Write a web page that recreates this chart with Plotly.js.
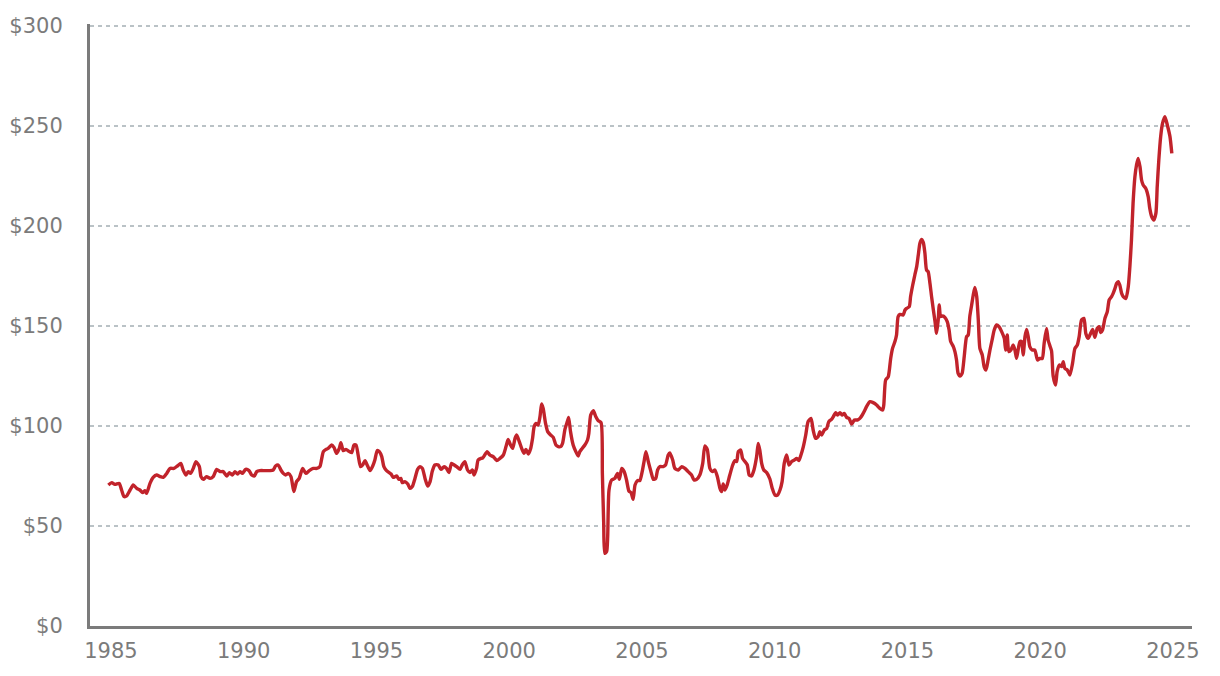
<!DOCTYPE html>
<html>
<head>
<meta charset="utf-8">
<script src="https://cdn.plot.ly/plotly-3.0.1.min.js"></script>
<style>
  html, body { margin: 0; padding: 0; background: #ffffff; }
  #chart { width: 1220px; height: 676px; }
</style>
</head>
<body>
<div id="chart"></div>
<script>
// Decimal years (x) and prices in dollars (y)
const years = [
  1984.90,1985.03,1985.15,1985.31,1985.40,1985.49,1985.59,1985.72,1985.84,1985.97,
  1986.09,1986.19,1986.28,1986.34,1986.47,1986.59,1986.72,1986.85,1986.97,1987.10,
  1987.22,1987.37,1987.50,1987.63,1987.72,1987.82,1987.91,1988.00,1988.10,1988.20,
  1988.33,1988.39,1988.48,1988.60,1988.73,1988.85,1988.98,1989.11,1989.23,1989.36,
  1989.46,1989.57,1989.67,1989.77,1989.86,1989.95,1990.07,1990.20,1990.30,1990.40,
  1990.49,1990.61,1990.80,1990.99,1991.11,1991.20,1991.30,1991.40,1991.49,1991.58,
  1991.68,1991.78,1991.89,1991.99,1992.09,1992.22,1992.34,1992.47,1992.62,1992.75,
  1992.87,1992.94,1993.00,1993.10,1993.18,1993.31,1993.40,1993.50,1993.60,1993.66,
  1993.75,1993.85,1993.98,1994.07,1994.15,1994.23,1994.31,1994.40,1994.48,1994.57,
  1994.65,1994.76,1994.86,1994.94,1995.03,1995.11,1995.20,1995.28,1995.38,1995.55,
  1995.63,1995.76,1995.85,1995.92,1995.97,1996.07,1996.18,1996.26,1996.35,1996.45,
  1996.55,1996.64,1996.73,1996.83,1996.93,1997.02,1997.10,1997.20,1997.33,1997.43,
  1997.55,1997.64,1997.73,1997.83,1997.93,1998.02,1998.15,1998.23,1998.33,1998.43,
  1998.52,1998.61,1998.68,1998.77,1998.83,1998.94,1999.00,1999.17,1999.27,1999.40,
  1999.53,1999.65,1999.78,1999.88,1999.96,2000.05,2000.13,2000.22,2000.28,2000.38,
  2000.47,2000.56,2000.63,2000.72,2000.81,2000.88,2000.94,2001.01,2001.09,2001.16,
  2001.22,2001.28,2001.37,2001.45,2001.56,2001.66,2001.76,2001.85,2001.94,2002.01,
  2002.10,2002.19,2002.24,2002.31,2002.41,2002.51,2002.60,2002.66,2002.75,2002.85,
  2002.95,2003.00,2003.07,2003.17,2003.26,2003.35,2003.46,2003.51,2003.56,2003.60,
  2003.67,2003.71,2003.76,2003.86,2003.98,2004.08,2004.15,2004.24,2004.33,2004.42,
  2004.51,2004.59,2004.67,2004.74,2004.84,2004.92,2005.01,2005.09,2005.15,2005.24,
  2005.34,2005.43,2005.52,2005.59,2005.68,2005.80,2005.89,2005.99,2006.05,2006.16,
  2006.24,2006.37,2006.50,2006.62,2006.74,2006.87,2006.96,2007.06,2007.18,2007.29,
  2007.37,2007.46,2007.56,2007.66,2007.75,2007.84,2007.94,2008.00,2008.06,2008.13,
  2008.21,2008.31,2008.42,2008.50,2008.57,2008.63,2008.72,2008.79,2008.88,2008.97,
  2009.04,2009.13,2009.22,2009.32,2009.38,2009.44,2009.51,2009.59,2009.70,2009.82,
  2009.91,2010.01,2010.11,2010.20,2010.28,2010.36,2010.45,2010.54,2010.64,2010.74,
  2010.83,2010.91,2010.99,2011.08,2011.17,2011.26,2011.37,2011.45,2011.54,2011.64,
  2011.70,2011.77,2011.87,2011.96,2012.04,2012.14,2012.21,2012.30,2012.37,2012.46,
  2012.54,2012.62,2012.71,2012.80,2012.90,2013.00,2013.12,2013.21,2013.30,2013.40,
  2013.46,2013.59,2013.71,2013.84,2013.96,2014.07,2014.11,2014.18,2014.28,2014.37,
  2014.44,2014.53,2014.59,2014.65,2014.72,2014.84,2014.91,2014.97,2015.07,2015.12,
  2015.20,2015.28,2015.35,2015.41,2015.47,2015.53,2015.60,2015.66,2015.72,2015.78,
  2015.85,2015.91,2015.97,2016.04,2016.10,2016.16,2016.20,2016.25,2016.33,2016.41,
  2016.50,2016.57,2016.63,2016.73,2016.79,2016.85,2016.91,2016.98,2017.06,2017.14,
  2017.23,2017.29,2017.35,2017.42,2017.48,2017.54,2017.61,2017.67,2017.73,2017.82,
  2017.89,2017.96,2018.04,2018.11,2018.19,2018.27,2018.36,2018.45,2018.55,2018.65,
  2018.70,2018.76,2018.82,2018.90,2018.98,2019.05,2019.11,2019.17,2019.24,2019.30,
  2019.36,2019.43,2019.49,2019.55,2019.61,2019.70,2019.80,2019.90,2019.99,2020.08,
  2020.15,2020.24,2020.30,2020.37,2020.43,2020.49,2020.58,2020.64,2020.72,2020.81,
  2020.87,2020.93,2021.02,2021.12,2021.22,2021.31,2021.40,2021.47,2021.56,2021.65,
  2021.72,2021.81,2021.90,2021.98,2022.06,2022.15,2022.22,2022.28,2022.35,2022.44,
  2022.53,2022.60,2022.69,2022.75,2022.82,2022.88,2022.94,2023.00,2023.07,2023.13,
  2023.23,2023.32,2023.38,2023.44,2023.50,2023.57,2023.63,2023.69,2023.76,2023.82,
  2023.88,2023.98,2024.07,2024.13,2024.20,2024.28,2024.36,2024.41,2024.47,2024.54,
  2024.61,2024.70,2024.79,2024.89,2024.96
];
const prices = [
  70.5,71.7,70.8,71.3,68.0,64.7,65.0,68.0,70.5,68.8,
  68.0,66.7,67.7,66.3,71.3,74.3,75.5,74.7,74.3,76.3,
  78.8,78.8,80.0,81.3,78.0,75.5,77.2,76.3,78.8,82.2,
  79.7,74.7,73.3,74.7,73.8,74.7,78.3,77.2,77.2,75.0,
  76.7,75.5,77.2,76.0,77.2,76.3,78.3,77.7,75.5,75.0,
  77.2,77.7,77.7,77.7,78.0,80.0,80.5,78.0,76.3,75.5,
  76.3,74.7,67.2,72.2,73.8,78.8,76.3,77.7,78.8,78.8,
  79.7,83.8,87.2,88.3,88.8,90.5,89.3,86.3,88.8,91.7,
  87.7,88.3,87.2,86.7,90.5,90.5,85.5,79.7,80.5,82.7,
  80.5,77.7,80.0,83.0,87.7,87.2,84.7,79.7,77.7,76.0,
  74.3,75.0,73.3,73.8,71.7,72.2,71.0,68.8,69.7,73.8,
  78.3,79.7,78.8,73.8,70.0,72.2,77.2,80.5,80.5,78.3,
  79.7,78.8,76.7,81.3,80.5,79.7,78.3,80.5,82.2,78.0,
  76.7,78.0,75.5,78.8,83.0,83.8,84.0,87.2,85.5,84.7,
  82.7,83.8,85.5,89.7,93.3,90.5,88.8,93.8,95.5,92.2,
  88.8,86.3,88.3,86.0,88.8,93.8,99.7,101.3,100.5,104.7,
  111.0,108.8,101.3,97.2,95.5,94.3,90.5,89.7,89.7,91.3,
  98.3,102.2,104.3,97.2,90.5,87.2,85.0,87.2,88.8,90.5,
  93.0,96.3,105.5,107.7,104.7,102.7,101.7,76.3,51.3,36.3,
  37.2,44.7,68.0,73.0,73.8,76.3,73.3,78.8,77.2,73.0,
  67.5,66.7,63.3,70.5,72.7,72.7,77.2,83.0,87.2,82.2,
  77.2,73.3,73.8,78.0,79.7,79.7,80.5,85.5,86.5,83.0,
  78.8,78.0,79.7,78.8,77.2,75.5,73.0,73.3,75.5,81.3,
  90.0,88.3,78.8,77.2,78.0,74.7,68.8,67.2,71.0,68.0,
  70.5,75.5,80.5,82.7,82.2,87.2,88.0,83.8,82.2,80.5,
  75.5,75.0,78.0,84.7,91.3,88.0,81.3,78.0,76.7,73.5,
  68.8,65.5,65.5,68.0,72.2,81.3,85.5,80.5,82.2,83.0,
  83.8,82.7,85.5,89.7,95.5,102.2,103.8,98.0,93.8,94.7,
  97.2,95.5,98.0,98.8,102.2,103.3,104.7,106.7,105.5,106.7,
  105.5,106.3,104.3,103.8,101.0,103.0,103.0,103.8,105.5,108.0,
  109.7,112.2,111.7,110.5,108.8,108.0,110.5,123.0,124.7,133.8,
  138.8,142.2,145.5,154.7,155.8,155.5,158.0,158.8,159.7,164.7,
  170.5,175.5,179.7,185.5,191.3,193.3,191.7,186.3,178.0,177.2,
  171.3,164.7,158.8,152.2,146.3,153.0,160.5,154.7,155.0,154.3,
  152.2,148.0,142.2,139.7,137.2,133.0,126.3,125.0,126.3,134.7,
  144.7,145.5,154.7,160.5,165.5,169.3,164.7,153.0,138.8,135.5,
  129.7,128.0,133.0,138.0,143.0,148.0,150.5,149.7,147.2,143.8,
  138.0,145.5,137.2,138.0,140.5,138.0,133.8,138.0,142.2,142.2,
  135.5,144.7,148.3,144.7,139.7,138.0,138.0,133.0,133.8,133.8,
  141.3,148.8,143.0,140.0,137.5,125.0,120.5,127.2,130.5,129.7,
  132.2,128.8,128.0,125.5,131.3,138.8,140.5,144.7,153.0,153.8,
  146.3,143.8,146.3,148.3,144.3,148.8,149.7,146.7,148.0,153.8,
  157.2,163.0,164.7,166.3,168.8,171.3,172.2,170.5,166.3,164.7,
  163.8,169.7,179.7,193.0,211.3,224.7,230.5,233.8,229.7,223.0,
  220.5,218.8,214.7,208.8,204.7,203.0,206.3,219.7,233.0,244.7,
  251.3,254.7,250.5,244.7,236.3
];
const xTicks = [1985, 1990, 1995, 2000, 2005, 2010, 2015, 2020, 2025];
const xTickLabels = ["1985", "1990", "1995", "2000", "2005", "2010", "2015", "2020", "2025"];
const yTicks = [0, 50, 100, 150, 200, 250, 300];
const yTickLabels = ["$0", "$50", "$100", "$150", "$200", "$250", "$300"];

const trace = {
  x: years,
  y: prices,
  type: 'scatter',
  mode: 'lines',
  line: { color: '#c1232b', width: 3.4, shape: 'spline', smoothing: 0.6 },
  hoverinfo: 'x+y'
};

const axisFont = { family: 'DejaVu Sans, sans-serif', size: 21, color: '#7b7b7b' };

const layout = {
  width: 1220,
  height: 676,
  margin: { l: 90, r: 28, t: 24, b: 50 },
  paper_bgcolor: '#ffffff',
  plot_bgcolor: '#ffffff',
  showlegend: false,
  xaxis: {
    range: [1984.21, 2025.72],
    tickmode: 'array',
    tickvals: xTicks,
    ticktext: xTickLabels,
    showgrid: false,
    zeroline: false,
    showline: true,
    linecolor: '#7b7b7b',
    linewidth: 3,
    ticks: '',
    ticklabelstandoff: 4,
    tickfont: axisFont
  },
  yaxis: {
    range: [0, 301],
    tickmode: 'array',
    tickvals: yTicks,
    ticktext: yTickLabels,
    showgrid: true,
    gridcolor: '#bac2c6',
    gridwidth: 1.3,
    griddash: '4px,4px',
    zeroline: false,
    showline: true,
    linecolor: '#7b7b7b',
    linewidth: 3,
    ticks: '',
    ticklabelstandoff: 20,
    tickfont: axisFont
  }
};

Plotly.newPlot('chart', [trace], layout, { displayModeBar: false, staticPlot: true });
</script>
</body>
</html>
